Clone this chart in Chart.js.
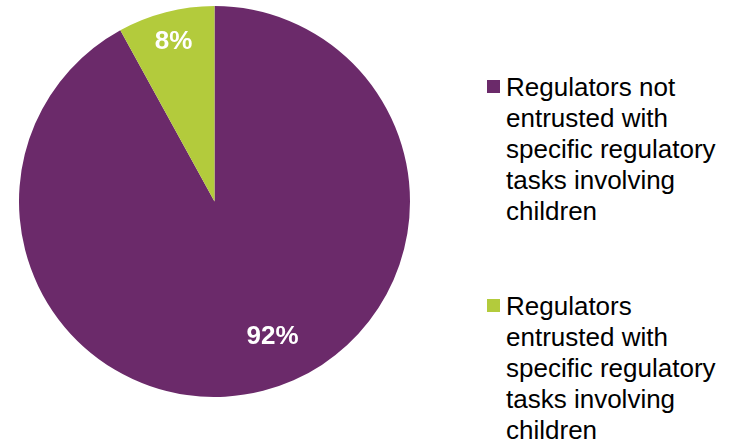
<!DOCTYPE html>
<html>
<head>
<meta charset="utf-8">
<script src="https://cdn.jsdelivr.net/npm/chart.js@4"></script>
<style>
  html, body {
    margin: 0;
    padding: 0;
    background: #ffffff;
    width: 739px;
    height: 444px;
    overflow: hidden;
  }
  #pieBox {
    position: absolute;
    left: 19px;
    top: 6px;
    width: 391px;
    height: 391px;
  }
  #legend {
    position: absolute;
    left: 487px;
    top: 72px;
    font-family: "Liberation Sans", Arial, sans-serif;
    font-size: 26px;
    line-height: 31px;
    color: #000000;
  }
  .item {
    display: flex;
    align-items: flex-start;
    margin-bottom: 64px;
  }
  .swatch {
    width: 13px;
    height: 13px;
    margin-top: 8px;
    margin-right: 6px;
    flex: none;
  }
</style>
</head>
<body>
<div id="pieBox"><canvas id="myChart"></canvas></div>
<div id="legend"></div>

<script>
// categories (one line per entry, same breaks as the legend)
const categories = [
  ["Regulators not", "entrusted with", "specific regulatory", "tasks involving", "children"],
  ["Regulators", "entrusted with", "specific regulatory", "tasks involving", "children"],
];
const shares = [92, 8];
const valueLabels = ["92%", "8%"];
const colors = ["#6b2a6a", "#b3cb3c"];

// where each value label sits: fraction of radius, angle shift from slice middle (deg)
const labelPlacement = [
  { r: 0.754, shift: -8.8 },
  { r: 0.843, shift: 0 },
];

//value labels inside the slices
const sliceLabels = {
  id: "sliceLabels",
  afterDatasetsDraw(chart) {
    const ctx = chart.ctx;
    const meta = chart.getDatasetMeta(0);
    ctx.save();
    ctx.fillStyle = "#ffffff";
    ctx.font = "bold 26px 'Liberation Sans', Arial, sans-serif";
    ctx.textAlign = "center";
    ctx.textBaseline = "middle";
    meta.data.forEach((arc, i) => {
      const p = labelPlacement[i];
      const mid = (arc.startAngle + arc.endAngle) / 2 + (p.shift * Math.PI) / 180;
      const rad = arc.outerRadius * p.r;
      const x = arc.x + Math.cos(mid) * rad;
      const y = arc.y + Math.sin(mid) * rad;
      ctx.fillText(valueLabels[i], x, y);
    });
    ctx.restore();
  },
};

const myChart = new Chart(document.getElementById("myChart"), {
  type: "pie",
  data: {
    labels: categories,
    datasets: [
      {
        data: shares,
        backgroundColor: colors,
        borderWidth: 0,
      },
    ],
  },
  options: {
    responsive: true,
    maintainAspectRatio: false,
    animation: false,
    layout: { padding: 0 },
    plugins: {
      legend: { display: false },
      tooltip: { enabled: false },
    },
  },
  plugins: [sliceLabels],
});

//legend on the right
const legendEl = document.getElementById("legend");
categories.forEach((lines, i) => {
  const item = document.createElement("div");
  item.className = "item";
  const sw = document.createElement("div");
  sw.className = "swatch";
  sw.style.background = colors[i];
  const txt = document.createElement("div");
  txt.innerHTML = lines.join("<br>");
  item.appendChild(sw);
  item.appendChild(txt);
  legendEl.appendChild(item);
});
</script>
</body>
</html>
